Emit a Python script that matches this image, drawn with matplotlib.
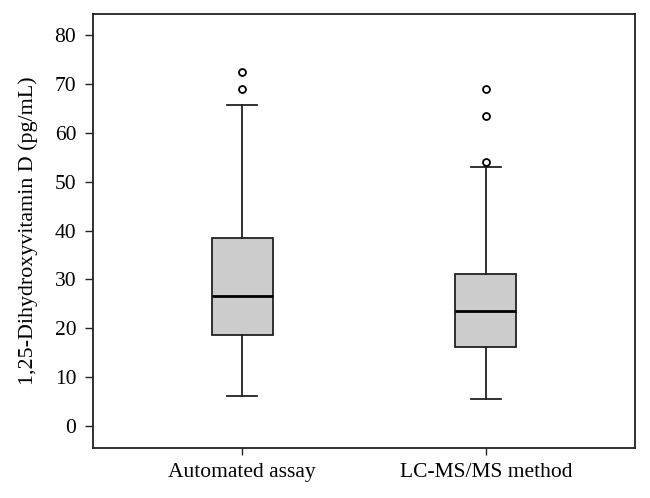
import matplotlib.pyplot as plt

plt.rcParams['font.family'] = ['Liberation Serif', 'DejaVu Serif']

# Summary statistics (pg/mL)
groups = ['Automated assay', 'LC-MS/MS method']
whislo = [6.2, 5.6]
q1 = [18.6, 16.1]
med = [26.6, 23.5]
q3 = [38.4, 31.1]
whishi = [65.7, 53.1]
fliers = [[68.9, 72.5], [54.1, 63.5, 69.0]]

stats = []
for i in range(len(groups)):
    stats.append(dict(label=groups[i], whislo=whislo[i], q1=q1[i], med=med[i],
                      q3=q3[i], whishi=whishi[i], fliers=fliers[i]))

fig = plt.figure(figsize=(6.5, 4.98), dpi=100)
ax = fig.add_axes([0.143, 0.1, 0.834, 0.872])

lc = '#222222'
ax.bxp(stats, positions=[1, 2], widths=0.25, patch_artist=True,
       boxprops=dict(facecolor='#cccccc', edgecolor=lc, linewidth=1.3),
       medianprops=dict(color='black', linewidth=2),
       whiskerprops=dict(color=lc, linewidth=1.3),
       capprops=dict(color=lc, linewidth=1.3),
       capwidths=0.125,
       flierprops=dict(marker='o', markerfacecolor='none', markeredgecolor='black',
                       markersize=5, markeredgewidth=1.3))

ax.set_xlim(0.389, 2.611)
ax.set_ylim(-4.5, 84.3)
ax.set_yticks(range(0, 81, 10))
ax.set_ylabel('1,25-Dihydroxyvitamin D (pg/mL)', fontsize=15.8, labelpad=12)
ax.tick_params(axis='y', labelsize=15.5, length=6, width=1, color=lc, pad=6)
ax.tick_params(axis='x', labelsize=15.5, length=5, width=1, color=lc, pad=6)
for s in ax.spines.values():
    s.set_color(lc)
    s.set_linewidth(1.3)

fig.savefig('out.png', dpi=100)
